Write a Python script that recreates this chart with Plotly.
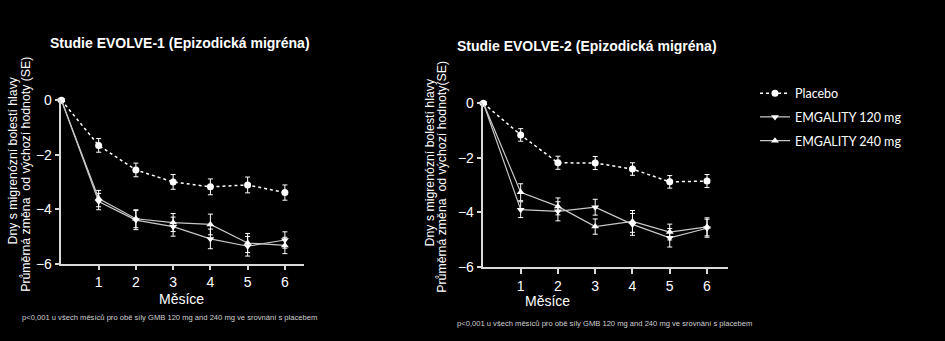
import plotly.graph_objects as go

months = [0, 1, 2, 3, 4, 5, 6]
y_ticks = [0, -2, -4, -6]
x_ticks = [1, 2, 3, 4, 5, 6]

# EVOLVE-1
e1_placebo = [0, -1.66, -2.56, -3.00, -3.18, -3.11, -3.39]
e1_placebo_se = [0, 0.25, 0.25, 0.27, 0.29, 0.29, 0.28]
e1_120 = [0, -3.72, -4.40, -4.64, -5.09, -5.36, -5.13]
e1_120_se = [0, 0.30, 0.35, 0.35, 0.36, 0.36, 0.30]
e1_240 = [0, -3.61, -4.35, -4.49, -4.56, -5.24, -5.33]
e1_240_se = [0, 0.30, 0.33, 0.33, 0.38, 0.35, 0.30]

# EVOLVE-2
e2_placebo = [0, -1.16, -2.18, -2.19, -2.41, -2.88, -2.85]
e2_placebo_se = [0, 0.23, 0.24, 0.24, 0.23, 0.23, 0.24]
e2_120 = [0, -3.90, -3.96, -3.81, -4.44, -4.93, -4.58]
e2_120_se = [0, 0.29, 0.35, 0.29, 0.40, 0.34, 0.33]
e2_240 = [0, -3.26, -3.78, -4.52, -4.33, -4.72, -4.53]
e2_240_se = [0, 0.31, 0.31, 0.28, 0.40, 0.29, 0.33]

names = ["Placebo", "EMGALITY 120 mg", "EMGALITY 240 mg"]
title1 = "Studie EVOLVE-1 (Epizodická migréna)"
title2 = "Studie EVOLVE-2 (Epizodická migréna)"
ylab1 = "Dny s migrenózní bolestí hlavy"
ylab2a = "Průměrná změna  od výchozí hodnoty (SE)"
ylab2b = "Průměrná změna  od výchozí hodnoty(SE)"
xlab = "Měsíce"
footnote = "p<0,001 u všech měsíců pro obě síly GMB 120 mg and 240 mg ve srovnání s placebem"

W, H = 945, 341
def px(x):
    return x / W
def py(y):
    return (H - y) / H

FONT = "Arial, Liberation Sans, sans-serif"

fig = go.Figure()

def add_set(pl, pl_se, a, a_se, b, b_se, xa, ya, show):
    err = dict(type="data", color="white", thickness=1, width=2.5)
    fig.add_trace(go.Scatter(x=months, y=pl, name=names[0], mode="lines+markers",
        line=dict(color="white", width=1.5, dash="dot"),
        marker=dict(symbol="circle", size=7, color="white"),
        error_y=dict(array=pl_se, **err), xaxis=xa, yaxis=ya, showlegend=show,
        legendgroup="g0", cliponaxis=False))
    fig.add_trace(go.Scatter(x=months, y=a, name=names[1], mode="lines+markers",
        line=dict(color="#c8c8c8", width=1.2),
        marker=dict(symbol="triangle-down", size=7, color="white"),
        error_y=dict(array=a_se, **err), xaxis=xa, yaxis=ya, showlegend=show,
        legendgroup="g1", cliponaxis=False))
    fig.add_trace(go.Scatter(x=months, y=b, name=names[2], mode="lines+markers",
        line=dict(color="#c8c8c8", width=1.2),
        marker=dict(symbol="triangle-up", size=7, color="white"),
        error_y=dict(array=b_se, **err), xaxis=xa, yaxis=ya, showlegend=show,
        legendgroup="g2", cliponaxis=False))

add_set(e1_placebo, e1_placebo_se, e1_120, e1_120_se, e1_240, e1_240_se, "x", "y", True)
add_set(e2_placebo, e2_placebo_se, e2_120, e2_120_se, e2_240, e2_240_se, "x2", "y2", False)

axis_common = dict(showgrid=False, zeroline=False, showline=True, linecolor="#d9d9d9",
                   linewidth=1.5, ticks="outside", ticklen=5, tickcolor="#d9d9d9",
                   tickwidth=1.5, tickfont=dict(family=FONT, size=14, color="white"))

fig.update_layout(
    width=W, height=H, margin=dict(l=0, r=0, t=0, b=0),
    paper_bgcolor="black", plot_bgcolor="black",
    xaxis=dict(domain=[px(61.4), px(303.5)], range=[0, 6.5], tickvals=x_ticks,
               anchor="y", **axis_common),
    yaxis=dict(domain=[py(268.3), py(96.7)], range=[-6, 0], tickvals=y_ticks,
               anchor="x", **axis_common),
    xaxis2=dict(domain=[px(483.4), px(727.5)], range=[0, 6.55], tickvals=x_ticks,
                anchor="y2", **axis_common),
    yaxis2=dict(domain=[py(271.7), py(100)], range=[-6, 0], tickvals=y_ticks,
                anchor="x2", **axis_common),
    showlegend=True,
    legend=dict(x=px(755), y=py(74), xanchor="left", yanchor="top",
                bgcolor="rgba(0,0,0,0)", tracegroupgap=4.5, itemwidth=30,
                font=dict(family="Lato", size=12.5, color="white")),
)

tf = dict(family=FONT, size=14, color="white")
lf = dict(family=FONT, size=12.3, color="white")
ff = dict(family=FONT, size=7.6, color="#d0d0d0")
mf = dict(family=FONT, size=14, color="white")
ann = [
    dict(text="<b>" + title1 + "</b>", x=px(48), y=py(37), xanchor="left", yanchor="middle", font=tf),
    dict(text="<b>" + title2 + "</b>", x=px(455), y=py(40), xanchor="left", yanchor="middle", font=tf),
    dict(text=ylab1, x=px(13), y=py(160), textangle=-90, xanchor="center", yanchor="middle", font=lf),
    dict(text=ylab2a, x=px(26), y=py(175), textangle=-90, xanchor="center", yanchor="middle", font=lf),
    dict(text=ylab1, x=px(430), y=py(162), textangle=-90, xanchor="center", yanchor="middle", font=lf),
    dict(text=ylab2b, x=px(442), y=py(177), textangle=-90, xanchor="center", yanchor="middle", font=lf),
    dict(text=xlab, x=px(181), y=py(305), xanchor="center", yanchor="middle", font=mf),
    dict(text=xlab, x=px(547), y=py(307), xanchor="center", yanchor="middle", font=mf),
    dict(text=footnote, x=px(20), y=py(325), xanchor="left", yanchor="middle", font=ff),
    dict(text=footnote, x=px(455), y=py(331), xanchor="left", yanchor="middle", font=ff),
]
for a in ann:
    a.update(xref="paper", yref="paper", showarrow=False)
fig.update_layout(annotations=ann)

fig.write_html("out.html")
